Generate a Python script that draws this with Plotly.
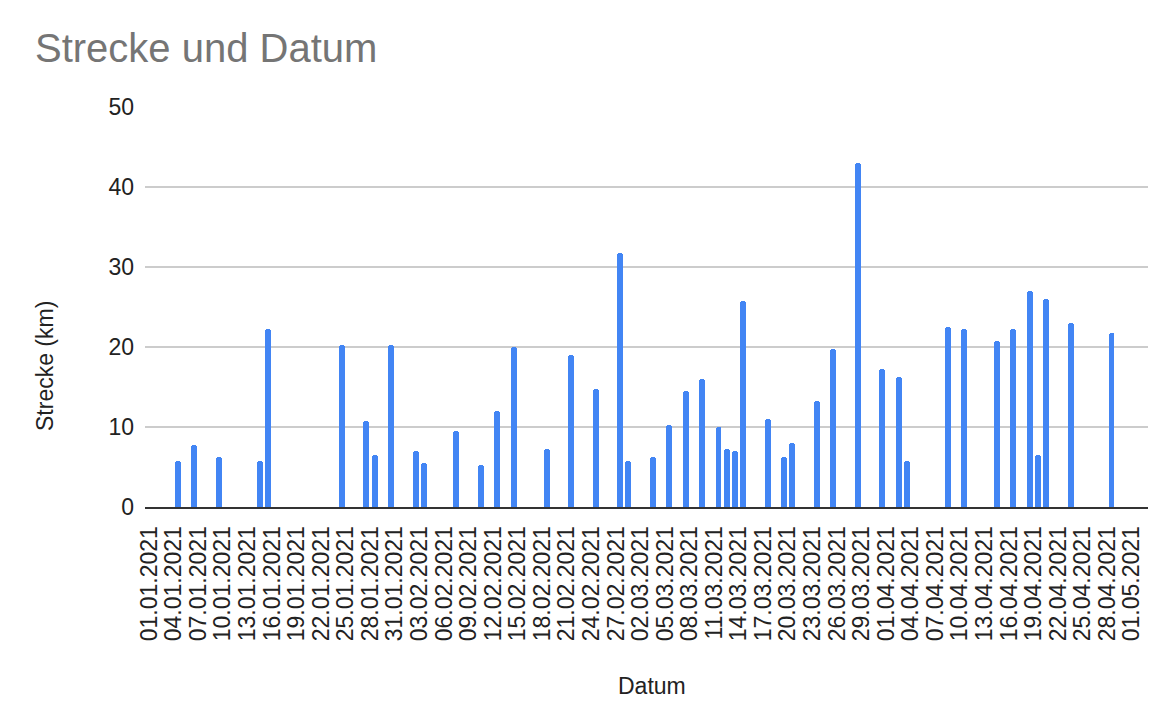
import plotly.graph_objects as go

# Data
dates = [
    "2021-01-05", "2021-01-07", "2021-01-10", "2021-01-15", "2021-01-16",
    "2021-01-25", "2021-01-28", "2021-01-29", "2021-01-31", "2021-02-03",
    "2021-02-04", "2021-02-08", "2021-02-11", "2021-02-13", "2021-02-15",
    "2021-02-19", "2021-02-22", "2021-02-25", "2021-02-28", "2021-03-01",
    "2021-03-04", "2021-03-06", "2021-03-08", "2021-03-10", "2021-03-12",
    "2021-03-13", "2021-03-14", "2021-03-15", "2021-03-18", "2021-03-20",
    "2021-03-21", "2021-03-24", "2021-03-26", "2021-03-29", "2021-04-01",
    "2021-04-03", "2021-04-04", "2021-04-09", "2021-04-11", "2021-04-15",
    "2021-04-17", "2021-04-19", "2021-04-20", "2021-04-21", "2021-04-24",
    "2021-04-29",
]
strecke_km = [
    5.8, 7.8, 6.3, 5.8, 22.3,
    20.3, 10.8, 6.5, 20.3, 7.0,
    5.5, 9.5, 5.3, 12.0, 20.0,
    7.3, 19.0, 14.8, 31.8, 5.8,
    6.3, 10.3, 14.5, 16.0, 10.0,
    7.3, 7.0, 25.8, 11.0, 6.3,
    8.0, 13.3, 19.8, 43.0, 17.3,
    16.3, 5.8, 22.5, 22.3, 20.8,
    22.3, 27.0, 6.5, 26.0, 23.0,
    21.8,
]
y_ticks = [0, 10, 20, 30, 40, 50]

title_text = "Strecke und Datum"
x_title = "Datum"
y_title = "Strecke (km)"

FONT = "Liberation Sans, Arial, sans-serif"
DAY_MS = 86400000

# the page body has an 8px default margin; size the figure to fill the rest
W, H = 1166, 716
OFF = 8

fig = go.Figure()
fig.add_trace(go.Bar(
    x=dates,
    y=strecke_km,
    width=0.73 * DAY_MS,
    marker=dict(color="#4285F4", cornerradius=3, line=dict(width=0)),
    hoverinfo="x+y",
))

fig.update_layout(
    width=W,
    height=H,
    paper_bgcolor="white",
    plot_bgcolor="white",
    margin=dict(l=145 - OFF, r=26, t=107 - OFF, b=217, autoexpand=False),
    showlegend=False,
    font=dict(family=FONT, size=23, color="#222222"),
    title=dict(
        text=title_text,
        x=(35 - OFF) / W, xanchor="left",
        y=1 - (48 - OFF) / H, yanchor="middle",
        xref="container", yref="container",
        font=dict(family=FONT, size=40, color="#757575"),
    ),
    bargap=0,
)

fig.update_xaxes(
    type="date",
    range=["2020-12-31 23:00", "2021-05-03 11:00"],
    tick0="2021-01-01",
    dtick=3 * DAY_MS,
    tickformat="%d.%m.%Y",
    tickangle=-90,
    tickfont=dict(family=FONT, size=23, color="#222222"),
    showgrid=False,
    showline=True,
    linecolor="#333333",
    linewidth=2,
    ticks="",
    ticklabelshift=4,
    ticklabelstandoff=8,
    zeroline=False,
)

fig.update_yaxes(
    range=[0, 50],
    tickvals=y_ticks,
    tickfont=dict(family=FONT, size=23, color="#222222"),
    showgrid=True,
    gridcolor="#cccccc",
    gridwidth=1.5,
    zeroline=False,
    showline=False,
    ticks="",
    ticklabelstandoff=10,
)

fig.add_annotation(
    text=y_title, textangle=-90,
    xref="paper", yref="paper",
    x=(45 - 145) / 1003, y=(507 - 366) / 400,
    xanchor="center", yanchor="middle",
    showarrow=False,
    font=dict(family=FONT, size=23, color="#222222"),
)
fig.add_annotation(
    text=x_title,
    xref="paper", yref="paper",
    x=(652 - 145) / 1003, y=(507 - 686) / 400,
    xanchor="center", yanchor="middle",
    showarrow=False,
    font=dict(family=FONT, size=23, color="#222222"),
)

fig.write_html("out.html")
